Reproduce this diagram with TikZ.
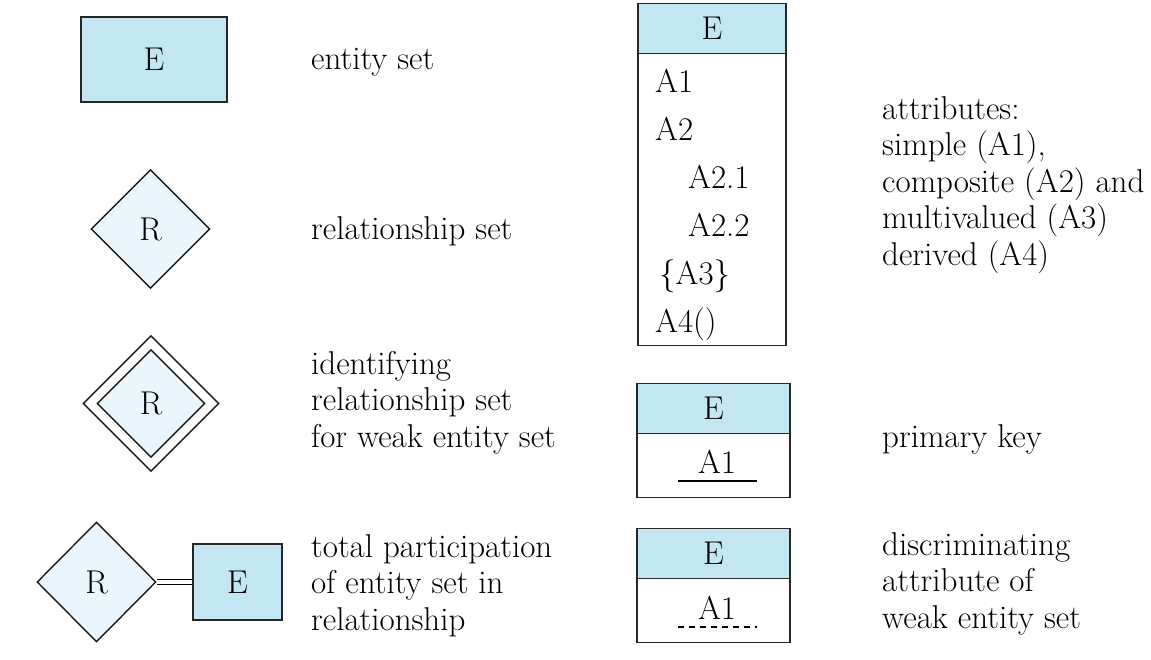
\documentclass[tikz,border=0pt]{standalone}
\usetikzlibrary{shapes.geometric,positioning}
\definecolor{erblue}{RGB}{194,231,242}
\definecolor{erpale}{RGB}{234,246,251}

\begin{document}
\begin{tikzpicture}[
  x=1pt,y=-1pt,
  every node/.style={font=\fontsize{33}{36.5}\selectfont},
  entity/.style={draw=black!85,fill=erblue,line width=1.6pt,inner sep=0pt,
                 minimum width=146pt,minimum height=85pt},
  rel/.style={diamond,draw=black!90,fill=erpale,line width=1.4pt,inner sep=0pt,
              minimum width=119pt,minimum height=119pt},
  tblhead/.style={draw=black!85,fill=erblue,line width=1.6pt,inner sep=0pt,outer sep=0pt,
                  minimum height=50pt},
  tblbody/.style={draw=black!85,fill=white,line width=1.6pt,inner sep=0pt,outer sep=0pt},
  lbl/.style={anchor=base west,inner sep=0pt,align=left},
  attr/.style={anchor=base west,inner sep=0pt},
]
\useasboundingbox (0,0) rectangle (1151,659);

%% Left column: shapes
\node[entity] (ent) at (154,59.5) {E};
\node[rel] (rel) at (150.5,229) {R};

\node[diamond,draw=black!90,fill=white,line width=1.4pt,inner sep=0pt,
      minimum width=136pt,minimum height=136pt] (idrout) at (151,403.5) {};
\node[rel,minimum width=108pt,minimum height=108pt] (idr) at (idrout.center) {R};

\node[rel,minimum height=120pt] (tpr) at (96.5,582) {R};
\node[entity,minimum width=89pt,minimum height=76pt] (tpe) at (237.5,582) {E};
\draw[double=white,double distance=3.6pt,line width=1.3pt] (tpr.east) -- (tpe.west);

%% Left column: labels (anchored at the last baseline)
\node[lbl] (lent) at (311,69) {entity set};
\node[lbl] (lrel) at (311,239) {relationship set};
\node[lbl] (lidr) at (311,447) {identifying\\relationship set\\for weak entity set};
\node[lbl] (ltp)  at (311,630) {total participation\\of entity set in\\relationship};

%% Right column: attribute table
\node[tblhead,minimum width=148pt] (ahead) at (712,28.5) {E};
\node[tblbody,minimum width=148pt,minimum height=292pt,below=0pt of ahead] (abody) {};
\foreach \txt/\dx/\y [count=\i] in {A1/0/92,A2/0/140,A2.1/33/188,A2.2/33/236,{\{A3\}}/4/284,A4()/0/332}{
  \node[attr] (arow\i) at (655+\dx,\y) {\txt};
}

%% Right column: primary key table
\node[tblhead,minimum width=153pt] (phead) at (713.5,408.5) {E};
\node[tblbody,minimum width=153pt,minimum height=64pt,below=0pt of phead] (pbody) {};
\node[attr,anchor=base] (pkey) at (717,473) {A1};
\draw[line width=1.3pt] (pkey.base) ++(-39.5,8) -- ++(79,0);

%% Right column: discriminator table
\node[tblhead,minimum width=153pt] (dhead) at (713.5,553.5) {E};
\node[tblbody,minimum width=153pt,minimum height=64pt,below=0pt of dhead] (dbody) {};
\node[attr,anchor=base] (dkey) at (717,619) {A1};
\draw[line width=1.1pt,dash pattern=on 6pt off 5pt] (dkey.base) ++(-39.5,8) -- ++(79,0);

%% Right column: labels
\node[lbl] (lattr) at (882,265) {attributes:\\simple (A1),\\composite (A2) and\\multivalued (A3)\\derived (A4)};
\node[lbl] (lpk) at (882,447) {primary key};
\node[lbl] (ldisc) at (882,628) {discriminating\\attribute of\\weak entity set};

\end{tikzpicture}
\end{document}
